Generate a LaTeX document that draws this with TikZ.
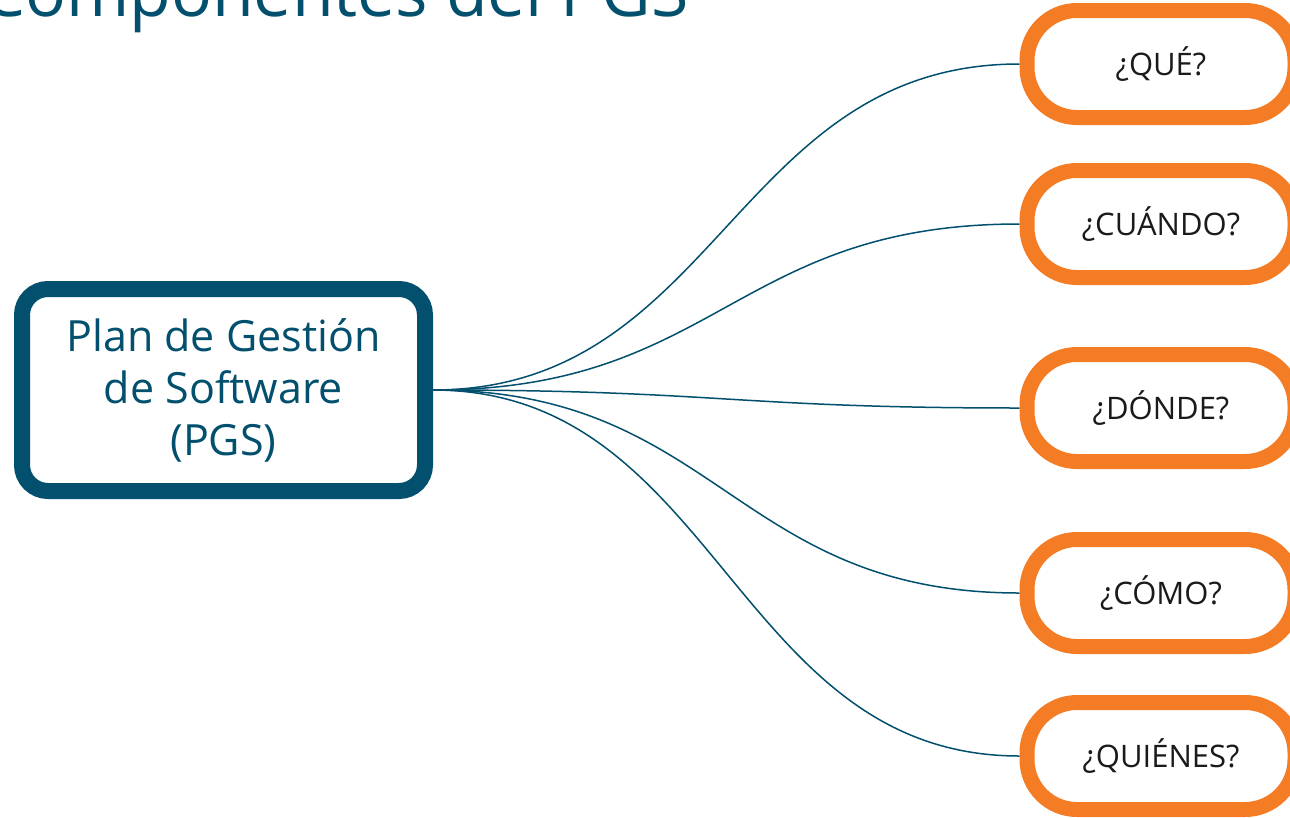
\documentclass[tikz,border=0pt]{standalone}
\usepackage{fontspec}
\setmainfont{Open Sans}
\definecolor{pgsteal}{HTML}{02506E}
\definecolor{pgsorange}{HTML}{F47C24}
\definecolor{pgsink}{HTML}{1A1A1A}
\tikzset{
  mainbox/.style={draw=pgsteal, line width=16pt, fill=white, rounded corners=26pt,
    minimum width=403pt, minimum height=202pt, align=center, text=pgsteal,
    font=\fontsize{43pt}{52pt}\selectfont},
  askbox/.style={draw=pgsorange, line width=15pt, fill=white, rounded corners=50pt,
    minimum width=268pt, minimum height=107pt, text=pgsink,
    font=\fontsize{31pt}{37pt}\selectfont},
  branch/.style={draw=pgsteal, line width=1.5pt},
  headline/.style={text=pgsteal, font=\fontsize{68pt}{80pt}\selectfont, inner sep=0pt}
}
\begin{document}
\begin{tikzpicture}[x=1pt, y=-1pt]
  \useasboundingbox (0,0) rectangle (1290,817);
  \fill[white] (0,0) rectangle (1290,817);

  % title
  \node[headline, anchor=base west] (title) at (-18,16) {Componentes del PGS};

  % branch curves (drawn first so the boxes sit on top)
  \coordinate (hub) at (433,390);
  \coordinate (e1) at (1019.5,64);
  \coordinate (e2) at (1019.5,224);
  \coordinate (e3) at (1019.5,408);
  \coordinate (e4) at (1019.5,593);
  \coordinate (e5) at (1019.5,756);
  \foreach \e in {e1,e2,e3,e4,e5}
    \draw[branch] (hub) .. controls +(285,0) and +(-285,0) .. (\e);

  % central node
  \node[mainbox] (pgs) at (223.5,390) {Plan de Gestión\\de Software\\(PGS)};

  % question nodes
  \node[askbox] (que) at (1161,64) {¿QUÉ?};
  \node[askbox] (cuando) at (1161,224) {¿CUÁNDO?};
  \node[askbox] (donde) at (1161,408) {¿DÓNDE?};
  \node[askbox] (como) at (1161,593) {¿CÓMO?};
  \node[askbox] (quienes) at (1161,756) {¿QUIÉNES?};
\end{tikzpicture}
\end{document}
